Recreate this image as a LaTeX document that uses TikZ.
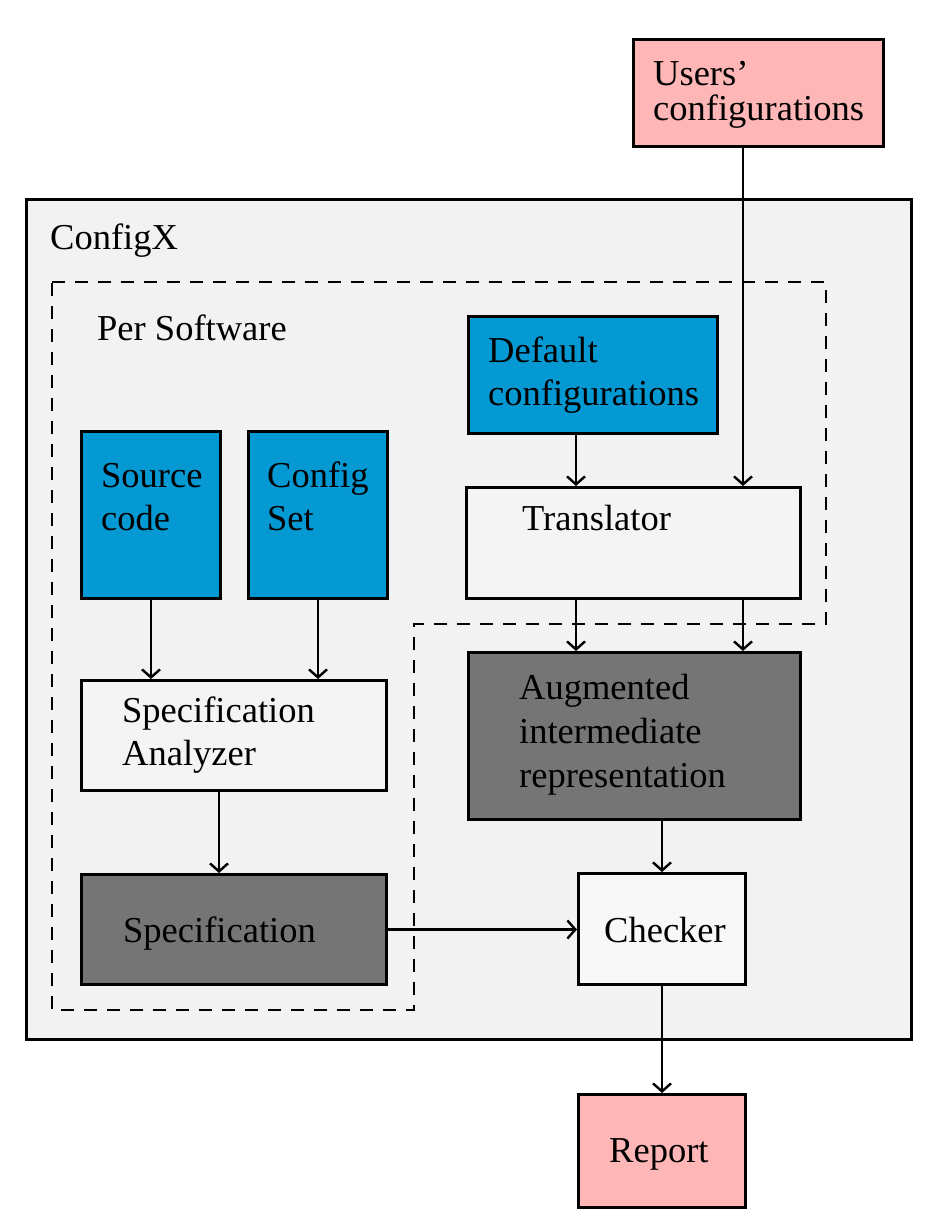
\documentclass[tikz,border=0pt]{standalone}
\usepackage{fontspec}
\setmainfont{Liberation Serif}
\usetikzlibrary{arrows.meta}
\definecolor{cfgpink}{HTML}{FFB6B6}
\definecolor{cfgblue}{HTML}{0499D3}
\definecolor{cfgdark}{HTML}{757575}
\definecolor{cfgbg}{HTML}{F2F2F2}
\definecolor{cfglight}{HTML}{F4F4F4}
\definecolor{cfgwhite}{HTML}{F8F8F8}
\tikzset{
  box/.style={draw=black, line width=3pt, anchor=north west, inner sep=0pt},
  txt/.style={anchor=base west, inner sep=0pt, align=left, font=\fontsize{36.5}{43}\selectfont},
  flow/.style={draw=black, line width=2.4pt, -{Straight Barb[length=8pt,width=18pt]}},
  region/.style={draw=black, line width=2.8pt, dash pattern=on 13pt off 10pt}
}
\begin{document}
\begin{tikzpicture}[x=1pt,y=-1pt]
\useasboundingbox (0,0) rectangle (930,1216);
% outer ConfigX box
\node[box, fill=cfgbg, minimum width=885pt, minimum height=840pt] (outer) at (25,198) {};
\node[txt] (tconfigx) at (50,249) {ConfigX};
% dashed per-software region
\draw[region] (52,282) -- (826,282) -- (826,624) -- (414,624) -- (414,1010) -- (52,1010) -- cycle;
\node[txt] (tper) at (97,340) {Per Software};
% boxes
\node[box, fill=cfgpink, minimum width=250pt, minimum height=107pt] (users) at (632,38) {};
\node[box, fill=cfgblue, minimum width=249pt, minimum height=117pt] (defcfg) at (467,315) {};
\node[box, fill=cfgblue, minimum width=139pt, minimum height=167pt] (src) at (80,430) {};
\node[box, fill=cfgblue, minimum width=139pt, minimum height=167pt] (cset) at (247,430) {};
\node[box, fill=cfglight, minimum width=334pt, minimum height=111pt] (trans) at (465,486) {};
\node[box, fill=cfgdark, minimum width=332pt, minimum height=167pt] (aug) at (467,651) {};
\node[box, fill=cfglight, minimum width=305pt, minimum height=110pt] (ana) at (80,679) {};
\node[box, fill=cfgdark, minimum width=305pt, minimum height=110pt] (spec) at (80,873) {};
\node[box, fill=cfgwhite, minimum width=167pt, minimum height=111pt] (check) at (577,872) {};
\node[box, fill=cfgpink, minimum width=167pt, minimum height=113pt] (report) at (577,1093) {};
% texts (anchor base = baseline of the last line)
\node[txt, font=\fontsize{36.5}{35}\selectfont] (tusers) at (653,120) {Users'\\configurations};
\node[txt] (tdef) at (488,405) {Default\\configurations};
\node[txt] (tsrc) at (101,530) {Source\\code};
\node[txt] (tcset) at (267,530) {Config\\Set};
\node[txt] (ttrans) at (522,530) {Translator};
\node[txt, font=\fontsize{36.5}{44}\selectfont] (taug) at (519,787) {Augmented\\intermediate\\representation};
\node[txt] (tana) at (122,765) {Specification\\Analyzer};
\node[txt] (tspec) at (123,942) {Specification};
\node[txt] (tcheck) at (604,942) {Checker};
\node[txt] (treport) at (609,1162) {Report};
% helper x positions
\coordinate (xu) at (743,0);
\coordinate (xl) at (576,0);
\coordinate (xa) at (219,0);
% connectors
\draw[flow] (users.south -| xu) -- (trans.north -| xu);
\draw[flow] (defcfg.south -| xl) -- (trans.north -| xl);
\draw[flow] (src.south) -- (ana.north -| src.south);
\draw[flow] (cset.south) -- (ana.north -| cset.south);
\draw[flow] (ana.south -| xa) -- (spec.north -| xa);
\draw[flow] (trans.south -| xl) -- (aug.north -| xl);
\draw[flow] (trans.south -| xu) -- (aug.north -| xu);
\draw[flow] (aug.south -| check.north) -- (check.north);
\draw[flow] (spec.east) -- (check.west |- spec.east);
\draw[flow] (check.south) -- (report.north);
\end{tikzpicture}
\end{document}
